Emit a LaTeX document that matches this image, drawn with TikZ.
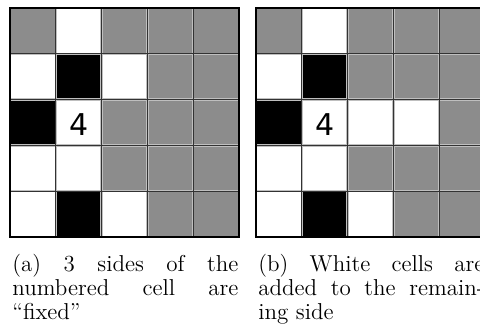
\documentclass[tikz,border=0pt]{standalone}
\usepackage{fontspec}
\usepackage{tikz}
\usetikzlibrary{positioning}
\newfontfamily\cellfont{DejaVu Sans}
\definecolor{cellgray}{HTML}{8C8C8C}
\tikzset{
    graycell/.style={fill=cellgray},
    whitecell/.style={fill=white},
    blackcell/.style={fill=black},
    blur/.style={draw=black!25, line width=1.2pt},
    gridline/.style={draw=black!80, line width=0.5pt},
    frame/.style={draw=black, line width=0.9pt},
    number/.style={font=\cellfont\fontsize{15}{18}\selectfont, inner sep=0pt,
        yshift=-1pt},
    caption/.style={anchor=north west, inner sep=0pt, text width=113pt,
        align=justify, font=\fontsize{11.5}{12}\selectfont}
}
% grid lines of a 5x5 board
\newcommand{\boardlines}{%
    \foreach \i in {1,...,4} {
        \draw[blur] (\i,0) -- (\i,5);
        \draw[blur] (0,\i) -- (5,\i);
    }
    \foreach \i in {1,...,4} {
        \draw[gridline] (\i,0) -- (\i,5);
        \draw[gridline] (0,\i) -- (5,\i);
    }
    \draw[frame] (0,0) rectangle (5,5);
}

\begin{document}
\begin{tikzpicture}[x=22.9pt,y=-22.9pt]
    \useasboundingbox (0pt,0pt) rectangle (240pt,-165.5pt);

    % (a) three sides fixed
    \begin{scope}[shift={(5pt,-4pt)}]
        \fill[graycell] (0,0) rectangle (5,5);
        \foreach \c/\r in {1/0,0/1,2/1,1/2,0/3,1/3,0/4,2/4}
            \fill[whitecell] (\c,\r) rectangle ++(1,1);
        \foreach \c/\r in {1/1,0/2,1/4}
            \fill[blackcell] (\c,\r) rectangle ++(1,1);
        \boardlines
        \node[number] (numa) at (1.5,2.5) {4};
    \end{scope}

    % (b) remaining side filled
    \begin{scope}[shift={(128pt,-4pt)}]
        \fill[graycell] (0,0) rectangle (5,5);
        \foreach \c/\r in {1/0,0/1,1/2,2/2,3/2,0/3,1/3,0/4,2/4}
            \fill[whitecell] (\c,\r) rectangle ++(1,1);
        \foreach \c/\r in {1/1,0/2,1/4}
            \fill[blackcell] (\c,\r) rectangle ++(1,1);
        \boardlines
        \node[number] (numb) at (1.5,2.5) {4};
    \end{scope}

    % captions
    \node[caption] (capa) at (6pt,-126.9pt)
        {(a) 3 sides of the\linebreak numbered cell are\linebreak ``fixed''};
    \node[caption] (capb) at (129pt,-126.9pt)
        {(b) White cells are\linebreak added to the remain-\linebreak ing side};
\end{tikzpicture}
\end{document}
